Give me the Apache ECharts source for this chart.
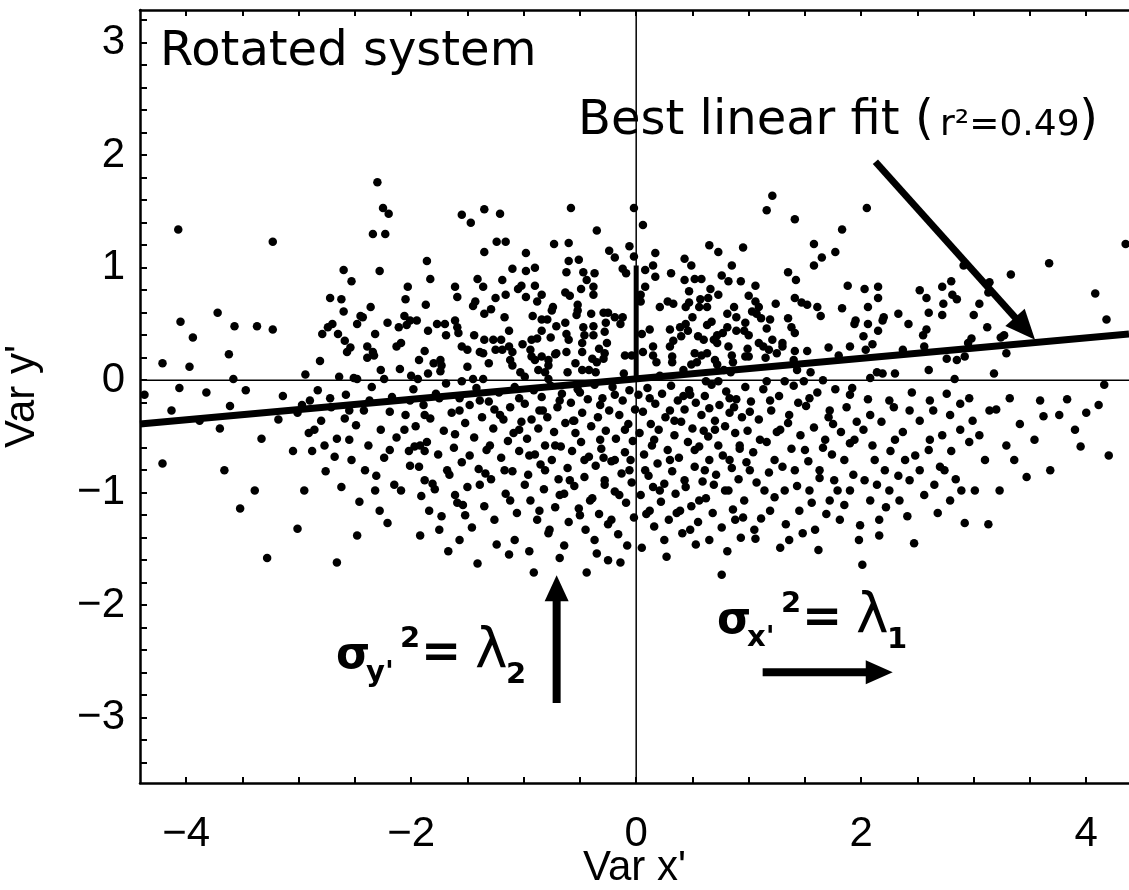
<!DOCTYPE html>
<html><head><meta charset="utf-8">
<script src="https://cdn.jsdelivr.net/npm/echarts@6/dist/echarts.min.js"></script>
<style>html,body{margin:0;padding:0;background:#fff}#c{width:1129px;height:890px}</style>
</head><body><div id="c"></div>
<script>
const xTickValues = [-4,-3.5,-3,-2.5,-2,-1.5,-1,-0.5,0,0.5,1,1.5,2,2.5,3,3.5,4];
const xLabelValues = [-4,-2,0,2,4];
const yTickValues = [-3.4,-3.2,-3,-2.8,-2.6,-2.4,-2.2,-2,-1.8,-1.6,-1.4,-1.2,-1,-0.8,-0.6,-0.4,-0.2,0,0.2,0.4,0.6,0.8,1,1.2,1.4,1.6,1.8,2,2.2,2.4,2.6,2.8,3,3.2];
const yLabelValues = [-3,-2,-1,0,1,2,3];

const pointsUpper = [
[-2.30,1.76],[-2.25,1.53],[-2.20,1.48],[-2.34,1.30],[-2.23,1.30],[-4.07,1.34],[-3.23,1.23],[-2.60,0.98],[-2.28,0.97],[-2.53,0.88],[-2.72,0.73],[-2.62,0.72],[-2.36,0.65],[-2.60,0.61],[-2.45,0.57],[-2.43,0.56],[-2.21,0.51],[-2.48,0.50],[-3.72,0.60],[-4.05,0.52],[-3.94,0.38],[-3.57,0.48],[-3.37,0.48],[-3.23,0.45],[-2.70,0.50],[-2.74,0.47],[-2.79,0.41],[-2.65,0.41],[-2.32,0.41],[-2.59,0.35],[-2.54,0.29],[-2.57,0.25],[-2.39,0.30],[-2.34,0.25],[-2.39,0.20],[-2.33,0.22],[-2.27,0.09],[-3.62,0.23],[-4.21,0.15],[-3.97,0.12],[-2.81,0.17],[-2.94,0.05],[-2.64,0.03],[-2.51,0.02],[-2.48,0.01],[-2.24,0.01],[-3.58,0.01],
[-1.55,1.47],[-1.47,1.40],[-1.35,1.52],[-1.21,1.48],[-0.58,1.53],[-0.35,1.33],[-0.02,1.53],[-1.24,1.23],[-1.16,1.23],[-1.35,1.14],[-1.86,1.06],[-0.98,1.13],[-0.73,1.21],[-0.60,1.22],[-0.24,1.15],[-0.19,1.09],[-0.06,1.19],[-0.02,1.10],[-0.60,1.06],[-0.51,1.07],[-1.10,0.99],[-0.98,0.97],[-0.90,1.00],[-0.62,0.96],[-0.47,0.96],[-0.37,0.95],[-0.12,0.99],[-0.09,0.95],[-1.83,0.90],[-1.41,0.90],[-1.19,0.89],[-0.44,0.89],[-2.03,0.83],[-1.61,0.83],[-1.36,0.83],[-1.02,0.84],[-1.05,0.81],[-0.90,0.84],[-0.49,0.81],[-0.38,0.83],[-2.05,0.72],[-1.59,0.74],[-1.16,0.76],[-1.25,0.73],[-0.98,0.74],[-0.84,0.76],[-0.88,0.70],[-0.63,0.78],[-0.59,0.75],[-0.38,0.76],[-1.43,0.70],[-1.45,0.66],[-1.87,0.67],[-0.52,0.67],[-0.74,0.65],[-1.29,0.63],[-1.35,0.59],[-0.52,0.62],[-2.06,0.57],[-1.95,0.53],[-2.01,0.53],[-2.11,0.47],[-2.04,0.49],[-1.77,0.50],[-1.70,0.50],[-1.61,0.53],[-1.59,0.47],[-1.17,0.56],[-0.92,0.57],[-0.84,0.54],[-0.79,0.54],[-0.75,0.62],[-0.63,0.51],[-0.53,0.58],[-0.40,0.59],[-0.29,0.60],[-0.25,0.60],[-0.19,0.56],[-0.12,0.56],[-0.14,0.50],[-0.27,0.51],[-0.47,0.47],[-0.38,0.48],[-1.85,0.44],[-1.69,0.40],[-1.58,0.42],[-1.44,0.40],[-1.13,0.44],[-0.84,0.44],[-0.76,0.38],[-0.71,0.48],[-0.62,0.41],[-0.28,0.43],[-0.46,0.40],[-0.38,0.40],[-1.35,0.36],[-1.27,0.36],[-1.20,0.36],[-0.93,0.36],[-0.88,0.37],[-0.60,0.36],[-0.48,0.33],[-0.26,0.33],[-2.09,0.33],[-2.13,0.30],[-1.55,0.30],[-1.50,0.27],[-1.01,0.32],[-1.13,0.30],[-1.10,0.25],[-1.88,0.26],[-1.39,0.25],[-1.36,0.24],[-1.25,0.27],[-1.19,0.27],[-0.94,0.27],[-0.71,0.24],[-0.62,0.25],[-0.48,0.25],[-0.33,0.28],[-0.28,0.24],[-0.10,0.22],[-0.04,0.22],[-1.93,0.18],[-1.74,0.18],[-1.80,0.15],[-1.73,0.13],[-1.50,0.12],[-1.31,0.15],[-1.12,0.18],[-1.10,0.13],[-0.93,0.21],[-0.90,0.18],[-0.84,0.21],[-0.78,0.18],[-0.72,0.23],[-0.78,0.13],[-0.54,0.15],[-0.39,0.19],[-0.35,0.16],[-0.29,0.19],[-2.10,0.10],[-1.74,0.08],[-1.85,0.06],[-2.00,0.04],[-1.94,0.01],[-1.03,0.07],[-0.87,0.09],[-0.81,0.07],[-0.61,0.07],[-0.48,0.09],[-0.42,0.09],[-0.36,0.07],[-0.11,0.06],[-1.45,0.01],[-1.36,0.01],[-1.55,-0.01],[-0.99,0.03],[-0.78,0.01],
[0.06,1.38],[1.21,1.64],[1.16,1.51],[1.41,1.43],[2.05,1.53],[1.83,1.34],[0.65,1.20],[0.73,1.14],[0.95,1.18],[1.58,1.21],[1.65,1.09],[1.77,1.14],[1.58,1.02],[0.17,1.13],[0.43,1.08],[0.49,1.02],[0.85,1.02],[0.15,1.02],[0.08,0.98],[0.17,0.92],[0.31,0.95],[0.43,0.89],[0.52,0.90],[0.58,0.90],[0.76,0.93],[0.82,0.88],[0.93,0.88],[1.06,0.84],[1.35,0.96],[1.42,0.89],[0.08,0.83],[0.47,0.79],[0.66,0.81],[1.88,0.84],[2.03,0.81],[2.15,0.83],[0.04,0.76],[0.04,0.70],[0.28,0.70],[0.33,0.68],[0.21,0.65],[0.47,0.69],[0.44,0.65],[0.57,0.72],[0.56,0.65],[0.64,0.73],[0.63,0.65],[0.73,0.76],[1.00,0.75],[1.06,0.70],[1.09,0.65],[1.24,0.68],[1.41,0.73],[1.47,0.69],[1.52,0.67],[1.61,0.65],[1.64,0.57],[1.83,0.64],[2.06,0.65],[2.15,0.73],[0.87,0.65],[0.81,0.59],[0.89,0.56],[1.03,0.61],[1.07,0.59],[1.11,0.55],[0.50,0.56],[0.44,0.50],[0.39,0.47],[0.46,0.44],[0.67,0.52],[0.63,0.49],[0.12,0.45],[0.05,0.41],[0.30,0.45],[0.81,0.47],[0.77,0.42],[0.72,0.40],[0.89,0.44],[0.97,0.51],[0.96,0.44],[1.00,0.40],[1.16,0.46],[1.19,0.54],[1.35,0.55],[1.38,0.47],[1.41,0.42],[1.95,0.53],[1.94,0.50],[2.06,0.50],[2.02,0.39],[2.15,0.44],[0.55,0.39],[0.60,0.36],[0.33,0.35],[0.40,0.39],[0.30,0.30],[0.15,0.30],[0.06,0.25],[0.72,0.33],[0.69,0.36],[0.82,0.30],[1.09,0.33],[1.13,0.30],[1.21,0.36],[1.30,0.33],[1.30,0.30],[0.99,0.28],[1.18,0.27],[1.41,0.26],[1.52,0.26],[1.71,0.29],[1.90,0.30],[2.04,0.27],[2.10,0.32],[0.15,0.22],[0.18,0.16],[0.32,0.21],[0.32,0.16],[0.52,0.24],[0.58,0.22],[0.54,0.16],[0.49,0.14],[0.63,0.24],[0.70,0.18],[0.72,0.14],[0.85,0.22],[0.86,0.16],[0.97,0.21],[1.00,0.21],[1.15,0.20],[1.25,0.24],[1.40,0.18],[1.80,0.22],[0.42,0.09],[0.78,0.09],[0.84,0.07],[1.43,0.09],[1.55,0.07],[1.16,-0.01],[1.32,-0.01],[1.49,-0.01],[1.66,0.00],[2.08,0.02],[2.14,0.07],[0.62,-0.01],[0.73,-0.01],[0.21,0.04],
[4.35,1.21],[3.67,1.04],[3.33,0.94],[2.91,1.02],[3.14,0.87],[3.13,0.78],[2.80,0.88],[2.72,0.83],[2.52,0.80],[2.58,0.73],[2.81,0.76],[2.85,0.72],[2.73,0.68],[3.05,0.68],[2.60,0.60],[2.33,0.59],[2.20,0.56],[2.19,0.53],[2.72,0.58],[3.00,0.58],[4.08,0.77],[4.18,0.54],[2.42,0.50],[2.58,0.45],[2.55,0.40],[3.12,0.47],[2.98,0.37],[2.95,0.33],[3.27,0.40],[3.24,0.38],[2.56,0.30],[2.37,0.27],[2.76,0.19],[2.85,0.18],[2.92,0.21],[3.29,0.24],[2.19,0.06],[2.30,0.06],[2.60,0.09],[3.18,0.06],[2.83,0.01]
];

const pointsLower = [
[-4.37,-0.13],[-4.06,-0.07],[-3.82,-0.11],[-4.21,-0.74],[-3.70,-0.43],[-3.66,-0.80],[-3.39,-0.98],[-3.28,-1.58],[-3.14,-0.14],[-3.01,-0.29],[-2.90,-0.18],[-2.86,-0.44],[-2.95,-0.98],[-3.01,-1.32],[-2.77,-0.58],[-2.68,-0.68],[-2.59,-0.34],[-2.55,-0.53],[-2.48,-1.38],[-2.66,-1.62],[-2.41,-0.80],[-2.32,-0.98],[-2.28,-1.16],[-2.19,-0.62],[-2.15,-0.93],[-2.06,-0.44],[-2.01,-0.76],[-1.92,-0.58],[-1.88,-0.89],[-1.84,-1.16],[-1.75,-1.33],[-1.68,-0.80],[-1.61,-1.02],[-1.57,-1.42],[-1.52,-1.20],[-1.48,-0.67],[-1.39,-0.93],[-1.30,-0.58],[-1.26,-1.24],[-1.17,-0.80],[-1.12,-1.07],[-1.08,-1.42],[-1.04,-0.44],[-0.99,-0.93],[-0.95,-0.67],[-0.91,-1.71],[-0.86,-1.16],[-0.81,-0.80],[-0.77,-1.33],[-0.72,-0.58],[-0.68,-1.02],[-0.64,-1.47],[-0.59,-0.89],[-0.55,-0.36],[-0.50,-1.20],[-0.46,-0.71],[-0.44,-1.71],[-0.41,-1.07],[-0.37,-1.42],[-0.32,-0.53],[-0.28,-0.89],[-0.25,-1.60],[-0.22,-1.24],[-0.19,-0.71],[-0.15,-1.02],[-0.10,-0.44],[-0.08,-1.47],[-0.06,-0.80],
[0.08,-0.80],[0.12,-1.16],[0.16,-0.53],[0.21,-0.98],[0.25,-1.42],[0.30,-0.71],[0.34,-0.36],[0.39,-1.16],[0.43,-0.89],[0.48,-1.33],[0.52,-0.62],[0.56,-1.07],[0.61,-0.80],[0.65,-1.42],[0.70,-0.44],[0.76,-1.73],[0.79,-0.98],[0.83,-0.71],[0.88,-1.24],[0.92,-0.58],[0.96,-1.07],[1.01,-0.80],[1.05,-1.33],[1.10,-0.53],[1.14,-0.98],[1.19,-1.16],[1.23,-0.71],[1.28,-0.44],[1.32,-0.98],[1.36,-1.42],[1.41,-0.80],[1.45,-1.16],[1.50,-0.62],[1.54,-0.98],[1.59,-1.33],[1.63,-0.80],[1.68,-0.53],[1.72,-1.07],[1.76,-0.89],[1.81,-1.24],[1.85,-0.71],[1.90,-0.98],[1.94,-0.53],[1.99,-1.29],[2.01,-1.64],[2.03,-0.89],[2.08,-1.07],[2.12,-0.71],[2.16,-1.24],[2.21,-0.80],[2.25,-0.98],[2.30,-0.53],[2.34,-1.07],[2.39,-0.71],[2.43,-0.89],[2.52,-0.80],[2.61,-0.53],[2.65,-0.93],[2.74,-0.80],[2.79,-1.07],[2.88,-0.44],[3.01,-0.98],[3.10,-0.71],[3.23,-0.98],[3.36,-0.71],[3.54,-0.53],[3.59,-0.18],[3.76,-0.31],[4.00,-0.29],[4.16,-0.04],[4.20,-0.67],[3.90,-0.44],[3.68,-0.80],
[-1.75,-0.16],[-1.57,-0.27],[-1.39,-0.18],[-1.21,-0.31],[-1.04,-0.16],[-0.86,-0.27],[-0.68,-0.18],[-0.50,-0.11],[-0.32,-0.22],[-0.19,-0.13],[0.12,-0.16],[0.30,-0.27],[0.48,-0.13],[0.65,-0.25],[0.83,-0.16],[1.01,-0.28],[1.19,-0.18],[1.36,-0.31],[1.54,-0.16],[1.72,-0.27],[1.90,-0.13],[2.08,-0.31],[2.25,-0.18],[2.43,-0.27],[2.61,-0.18],[2.79,-0.31],[2.96,-0.16],[3.14,-0.27],[3.32,-0.16],[-2.72,-0.16],[-2.55,-0.27],[-2.37,-0.18],[-2.19,-0.28],[-2.01,-0.18],[-1.88,-0.31],
[-2.97,-0.22],[-2.91,-0.47],[-2.83,-0.09],[-2.80,-0.36],[-2.76,-0.81],[-2.71,-0.24],[-2.66,-0.52],[-2.62,-0.95],[-2.58,-0.13],[-2.53,-0.71],[-2.49,-0.40],[-2.46,-1.08],[-2.42,-0.27],[-2.38,-0.58],[-2.35,-0.06],[-2.31,-0.85],[-2.27,-0.44],[-2.24,-0.69],[-2.21,-1.27],[-2.17,-0.15],[-2.13,-0.51],[-2.09,-0.98],[-2.05,-0.31],[-2.02,-0.63],[-2.88,-0.63],
[-1.98,-0.08],[-1.96,-0.41],[-1.93,-0.77],[-1.91,-1.03],[-1.89,-0.22],[-1.86,-0.55],[-1.83,-0.34],[-1.81,-0.92],[-1.78,-0.12],[-1.76,-0.66],[-1.73,-1.21],[-1.71,-0.45],[-1.69,-0.03],[-1.66,-0.84],[-1.64,-0.29],[-1.62,-0.60],[-1.59,-1.09],[-1.57,-0.16],[-1.55,-0.73],[-1.52,-0.38],[-1.50,-0.95],[-1.48,-0.22],[-1.46,-1.31],[-1.44,-0.51],[-1.42,-0.07],[-1.40,-0.79],[-1.37,-0.33],[-1.35,-1.12],[-1.33,-0.62],[-1.31,-0.19],[-1.29,-0.88],[-1.27,-0.43],[-1.24,-1.46],[-1.22,-0.11],[-1.20,-0.69],[-1.18,-0.35],[-1.16,-1.01],[-1.14,-0.54],[-1.12,-0.24],[-1.10,-0.81],[-1.08,-0.06],[-1.06,-1.18],[-1.04,-0.63],[-1.02,-0.37],[-1.92,-1.38],[-1.67,-1.52],[-1.41,-1.63],[-1.13,-1.55],[-1.88,-0.63],[-1.61,-0.48],[-1.34,-0.83],[-1.09,-0.47],[-1.79,-0.97],[-1.54,-1.11],[-1.26,-0.26],[-1.97,-0.59],
[-0.99,-0.21],[-0.97,-0.52],[-0.96,-0.84],[-0.94,-1.07],[-0.93,-0.35],[-0.91,-0.09],[-0.90,-0.66],[-0.88,-1.24],[-0.87,-0.43],[-0.85,-0.75],[-0.84,-0.15],[-0.82,-0.97],[-0.81,-0.58],[-0.79,-0.33],[-0.78,-1.36],[-0.76,-0.05],[-0.75,-0.71],[-0.73,-0.46],[-0.72,-1.13],[-0.70,-0.24],[-0.69,-0.88],[-0.67,-0.59],[-0.66,-0.12],[-0.64,-1.01],[-0.63,-0.38],[-0.61,-0.78],[-0.60,-1.26],[-0.58,-0.20],[-0.57,-0.63],[-0.55,-0.94],[-0.54,-0.47],[-0.52,-0.08],[-0.51,-1.14],[-0.49,-0.55],[-0.48,-0.29],[-0.46,-0.86],[-0.45,-1.33],[-0.43,-0.17],[-0.42,-0.68],[-0.40,-0.41],[-0.39,-1.05],[-0.37,-0.04],[-0.36,-0.76],[-0.34,-0.33],[-0.33,-1.19],[-0.31,-0.61],[-0.30,-0.16],[-0.28,-0.93],[-0.27,-0.45],[-0.25,-1.28],[-0.24,-0.27],[-0.22,-0.72],[-0.21,-0.06],[-0.19,-0.99],[-0.18,-0.52],[-0.16,-1.37],[-0.15,-0.31],[-0.13,-0.83],[-0.12,-0.18],[-0.10,-0.64],[-0.09,-1.09],[-0.07,-0.39],[-0.06,-0.09],[-0.04,-0.91],[-0.03,-0.54],[-0.02,-1.22],[-0.01,-0.26],[-0.95,-1.52],[-0.68,-1.58],[-0.35,-1.54],[-0.14,-1.62],[-0.83,-0.27],[-0.56,-0.36],[-0.29,-0.69],[-0.05,-0.71],
[0.02,-0.13],[0.03,-0.47],[0.04,-1.02],[0.06,-0.28],[0.07,-0.66],[0.09,-1.19],[0.10,-0.07],[0.11,-0.85],[0.13,-0.39],[0.14,-0.58],[0.16,-1.30],[0.17,-0.21],[0.19,-0.74],[0.20,-0.44],[0.22,-1.08],[0.23,-0.12],[0.25,-0.92],[0.26,-0.33],[0.28,-0.62],[0.29,-1.24],[0.31,-0.05],[0.32,-0.81],[0.34,-0.49],[0.35,-1.01],[0.37,-0.18],[0.38,-0.69],[0.40,-0.37],[0.41,-1.36],[0.43,-0.26],[0.44,-0.95],[0.46,-0.55],[0.47,-0.09],[0.49,-1.12],[0.50,-0.43],[0.52,-0.77],[0.53,-0.20],[0.55,-1.26],[0.56,-0.59],[0.58,-0.31],[0.59,-0.90],[0.61,-0.14],[0.62,-1.05],[0.64,-0.50],[0.65,-0.71],[0.67,-0.04],[0.68,-1.18],[0.70,-0.36],[0.71,-0.84],[0.73,-0.58],[0.74,-0.22],[0.76,-1.31],[0.77,-0.67],[0.79,-0.41],[0.80,-0.10],[0.82,-0.98],[0.83,-0.29],[0.85,-0.78],[0.86,-1.15],[0.88,-0.47],[0.89,-0.17],[0.91,-0.88],[0.92,-0.61],[0.94,-0.33],[0.95,-1.22],[0.97,-0.06],[0.98,-0.73],[0.99,-0.45],[0.05,-1.49],[0.27,-1.57],[0.53,-1.46],[0.81,-1.52],[0.15,-0.95],[0.42,-0.14],[0.69,-0.93],[0.93,-1.40],[0.36,-1.18],[0.60,-0.45],[0.87,-0.24],
[1.02,-0.19],[1.04,-0.64],[1.07,-0.91],[1.09,-0.35],[1.11,-1.23],[1.13,-0.08],[1.16,-0.55],[1.18,-0.82],[1.20,-0.27],[1.23,-1.04],[1.25,-0.46],[1.27,-0.14],[1.30,-0.77],[1.33,-1.28],[1.35,-0.38],[1.38,-0.61],[1.40,-0.05],[1.43,-0.94],[1.46,-0.49],[1.48,-1.36],[1.51,-0.23],[1.53,-0.72],[1.56,-1.09],[1.58,-0.42],[1.61,-0.11],[1.63,-0.87],[1.66,-0.60],[1.69,-1.19],[1.71,-0.33],[1.74,-0.66],[1.77,-0.08],[1.79,-0.98],[1.82,-0.46],[1.85,-1.11],[1.87,-0.24],[1.90,-0.56],[1.93,-0.84],[1.96,-0.37],[1.98,-1.42],[1.28,-1.49],[1.62,-1.51],[1.06,-1.41],[1.44,-0.20],[1.75,-0.39],[1.92,-0.07],
[2.02,-0.44],[2.06,-0.17],[2.10,-0.58],[2.14,-0.93],[2.18,-0.37],[2.22,-1.13],[2.26,-0.63],[2.29,-0.24],[2.33,-0.85],[2.37,-0.46],[2.41,-1.21],[2.45,-0.11],[2.48,-0.67],[2.52,-0.36],[2.56,-1.02],[2.60,-0.62],[2.64,-0.27],[2.68,-1.18],[2.72,-0.49],[2.76,-0.12],[2.80,-0.63],[2.84,-0.88],[2.88,-0.21],[2.92,-1.27],[2.96,-0.55],[2.99,-0.36],[2.16,-1.38],[2.47,-1.45],[2.70,-0.77],[2.89,-0.98],
[3.05,-0.49],[3.13,-1.28],[3.20,-0.26],[3.29,-0.58],[3.41,-0.39],[3.47,-0.86],[3.62,-0.32],[3.83,-0.17],[3.95,-0.59],[4.11,-0.22],
[-3.05,-0.63],[-3.18,-0.35],[-3.33,-0.52],[-3.47,-0.09],[-3.61,-0.23],[-3.88,-0.36],[-4.13,-0.27],[-3.52,-1.14]
];

const fitLine = [[-4.41,-0.39],[4.38,0.41]];
const principalSegment = [[0,0],[0,1.02]];
const X_MIN = -4.41, X_MAX = 4.38, Y_MIN = -3.58, Y_MAX = 3.29;

const chart = echarts.init(document.getElementById('c'), null, {renderer:'canvas'});
const fmt = v => (v < 0 ? '\u2212' + Math.abs(v) : String(v));
const labelFont = 'Liberation Sans, Arial, sans-serif';
const baseAxis = {
  type:'value', splitLine:{show:false},
  axisLine:{show:true, onZero:false, lineStyle:{color:'#000', width:2.5}}
};
chart.setOption({
  animation:false,
  backgroundColor:'#fff',
  grid:{left:140, right:0, top:10, bottom:107, containLabel:false, outerBoundsMode:'none'},
  xAxis:[
    Object.assign({}, baseAxis, {min:X_MIN, max:X_MAX, position:'bottom',
      axisTick:{show:true, inside:true, length:6, customValues:xTickValues, lineStyle:{color:'#000', width:2}},
      axisLabel:{show:true, customValues:xLabelValues, formatter:fmt, color:'#000', fontSize:42, fontFamily:labelFont, margin:30},
      name:"Var x'", nameLocation:'middle', nameGap:64, nameMoveOverlap:false,
      nameTextStyle:{color:'#000', fontSize:42, fontFamily:labelFont}}),
    Object.assign({}, baseAxis, {min:X_MIN, max:X_MAX, position:'top',
      axisTick:{show:true, inside:true, length:6, customValues:xTickValues, lineStyle:{color:'#000', width:2}},
      axisLabel:{show:false}})
  ],
  yAxis:[
    Object.assign({}, baseAxis, {min:Y_MIN, max:Y_MAX, position:'left',
      axisTick:{show:true, inside:true, length:7, customValues:yTickValues, lineStyle:{color:'#000', width:2}},
      axisLabel:{show:true, customValues:yLabelValues, formatter:fmt, color:'#000', fontSize:42, fontFamily:labelFont, margin:15},
      name:"Var y'", nameLocation:'middle', nameGap:97, nameRotate:90, nameMoveOverlap:false,
      nameTextStyle:{color:'#000', fontSize:42, fontFamily:labelFont}})
  ],
  series:[
    {type:'line', data:[[0,Y_MIN],[0,Y_MAX]], symbol:'none', silent:true, lineStyle:{color:'#000', width:1.5}, z:1},
    {type:'line', data:[[X_MIN,0],[X_MAX,0]], symbol:'none', silent:true, lineStyle:{color:'#000', width:1.5}, z:1},
    {type:'scatter', data:pointsUpper.concat(pointsLower), symbol:'circle', symbolSize:8.5, itemStyle:{color:'#000', opacity:1}, silent:true, z:3},
    {type:'line', data:fitLine, symbol:'none', silent:true, lineStyle:{color:'#000', width:7, cap:'butt'}, z:4},
    {type:'line', data:principalSegment, symbol:'none', silent:true, lineStyle:{color:'#000', width:5, cap:'butt'}, z:4}
  ]
});

function px(p){ return chart.convertToPixel({gridIndex:0}, p); }
function arrow(tail, tip, headLen, headW, shaftW){
  const a = px(tail), b = px(tip);
  const dx = b[0]-a[0], dy = b[1]-a[1], L = Math.hypot(dx,dy);
  const ux = dx/L, uy = dy/L, nx = -uy, ny = ux;
  const bx = b[0]-ux*headLen, by = b[1]-uy*headLen;
  return [
    {type:'line', shape:{x1:a[0], y1:a[1], x2:bx+ux*2, y2:by+uy*2}, style:{stroke:'#000', lineWidth:shaftW}, z:10},
    {type:'polygon', shape:{points:[[b[0],b[1]],[bx+nx*headW/2, by+ny*headW/2],[bx-nx*headW/2, by-ny*headW/2]]}, style:{fill:'#000'}, z:10}
  ];
}
const SANS = 'DejaVu Sans, Verdana, sans-serif';
function txt(x, baseline, s, size, weight, align){
  return {type:'text', x:x, y:baseline - 0.346*size, z:12,
    style:{text:s, fill:'#000', font:(weight||'normal')+' '+size+'px '+SANS, textAlign:align||'left', textVerticalAlign:'middle', verticalAlign:'middle'}};
}
function sigmaLabel(x0, b, sub, lamSub){
  return [
    txt(x0-1, b, '\u03C3', 44, 'bold'),
    txt(x0+29, b+12, sub, 29, 'bold'),
    txt(x0+63, b-22, '2', 29, 'bold'),
    txt(x0+84, b-1, '=', 48, 'bold'),
    txt(x0+138, b, '\u03BB', 55, 'normal'),
    txt(x0+169, b+14, lamSub, 29, 'bold')
  ];
}
const g = [];
g.push(txt(160, 69, 'Rotated system', 48));
g.push(txt(578, 138, 'Best linear fit (', 48));
g.push(txt(940, 138, 'r\u00B2=0.49', 36));
g.push(txt(1098, 138, ')', 48, 'normal', 'right'));
g.push(...sigmaLabel(337, 672, "y'", '2'));
g.push(...sigmaLabel(718, 637, "x'", '1'));
g.push(...arrow([2.126,1.941],[3.545,0.36], 30, 26, 7));
g.push(...arrow([-0.707,-2.87],[-0.707,-1.733], 26, 24, 8));
g.push(...arrow([1.124,-2.596],[2.28,-2.596], 27, 24, 8));
chart.setOption({graphic:{elements:g}});
</script>
</body></html>
